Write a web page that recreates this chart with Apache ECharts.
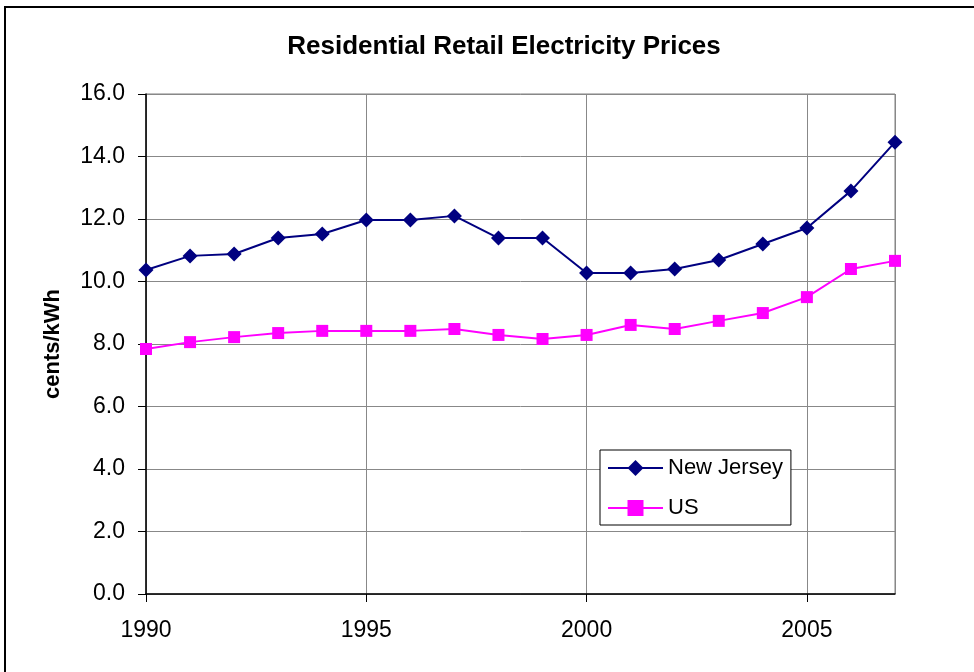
<!DOCTYPE html>
<html>
<head>
    <meta charset="utf-8">
    <title>Residential Retail Electricity Prices</title>
    <script src="https://cdn.jsdelivr.net/npm/echarts@6/dist/echarts.min.js"></script>
</head>
<body style="margin:0;background:#fff;">
<div id="main" style="width: 974px;height:672px;"></div>

<script type="text/javascript">
    // data (cents/kWh)
    var years = [1990, 1991, 1992, 1993, 1994, 1995, 1996, 1997, 1998, 1999,
                 2000, 2001, 2002, 2003, 2004, 2005, 2006, 2007];
    var newJersey = [10.37, 10.82, 10.88, 11.39, 11.52, 11.97, 11.97, 12.10, 11.39, 11.39,
                     10.27, 10.27, 10.40, 10.69, 11.20, 11.71, 12.90, 14.46];
    var us = [7.84, 8.06, 8.22, 8.35, 8.42, 8.42, 8.42, 8.48, 8.29, 8.16,
              8.29, 8.61, 8.48, 8.74, 8.99, 9.50, 10.40, 10.66];

    function pairs(vals) {
        return years.map(function (y, i) { return [y, vals[i]]; });
    }

    var chart = echarts.init(document.getElementById('main'));
    var font = 'Liberation Sans, Arial, sans-serif';

    var option = {
        animation: false,
        backgroundColor: '#fff',
        title: {
            text: 'Residential Retail Electricity Prices',
            left: 499,
            textAlign: 'center',
            top: 29,
            textStyle: { fontFamily: font, fontSize: 26, fontWeight: 'bold', color: '#000' }
        },
        graphic: [{
            type: 'rect',
            shape: { x: 5, y: 7, width: 1000, height: 700 },
            style: { fill: 'none', stroke: '#000', lineWidth: 2 },
            z: 0
        }],
        grid: {
            left: 146, right: 79, top: 94, bottom: 78,
            show: true, borderColor: '#808080', borderWidth: 1
        },
        legend: {
            orient: 'vertical',
            left: 600, top: 450,
            padding: [7, 8, 6, 7],
            itemWidth: 55, itemHeight: 20, itemGap: 18,
            backgroundColor: '#fff',
            borderColor: '#000', borderWidth: 1,
            textStyle: { fontFamily: font, fontSize: 22, color: '#000' },
            data: ['New Jersey', 'US']
        },
        xAxis: {
            type: 'value',
            min: 1990, max: 2007, interval: 5,
            axisLine: { lineStyle: { color: '#000', width: 1.5 } },
            axisTick: { length: 8, lineStyle: { color: '#000' } },
            axisLabel: {
                fontFamily: font, fontSize: 23, color: '#000', margin: 25,
                showMaxLabel: false,
                formatter: function (v) { return String(v); }
            },
            splitLine: { show: true, lineStyle: { color: '#888', width: 1 } }
        },
        yAxis: {
            type: 'value',
            min: 0, max: 16, interval: 2,
            name: 'cents/kWh',
            nameLocation: 'middle',
            nameGap: 82,
            nameTextStyle: { fontFamily: font, fontSize: 22, fontWeight: 'bold', color: '#000' },
            axisLine: { show: true, lineStyle: { color: '#000', width: 1.5 } },
            axisTick: { show: true, length: 8, lineStyle: { color: '#000' } },
            axisLabel: {
                fontFamily: font, fontSize: 23, color: '#000', margin: 21,
                formatter: function (v) { return v.toFixed(1); }
            },
            splitLine: { show: true, lineStyle: { color: '#888', width: 1 } }
        },
        series: [{
            name: 'New Jersey',
            type: 'line',
            data: pairs(newJersey),
            symbol: 'diamond',
            symbolSize: 15,
            itemStyle: { color: '#000080' },
            lineStyle: { color: '#000080', width: 2 },
            z: 3
        }, {
            name: 'US',
            type: 'line',
            data: pairs(us),
            symbol: 'rect',
            symbolSize: 12,
            itemStyle: { color: '#ff00ff' },
            lineStyle: { color: '#ff00ff', width: 2 },
            z: 2
        }]
    };

    chart.setOption(option);
</script>
</body>
</html>
